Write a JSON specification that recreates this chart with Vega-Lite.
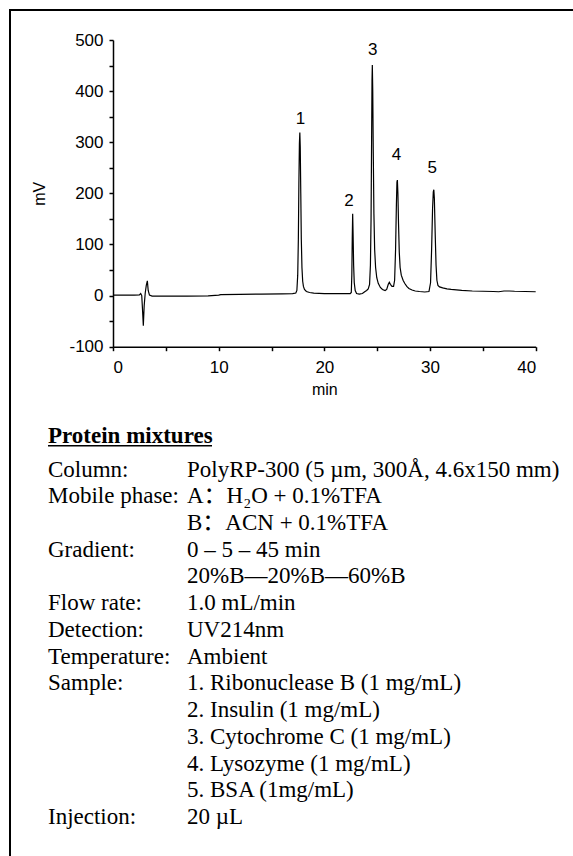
{
  "$schema": "https://vega.github.io/schema/vega-lite/v6.json",
  "width": 565,
  "height": 848,
  "autosize": {"type": "none"},
  "padding": {"left": 10, "top": 10, "right": -2, "bottom": -2},
  "background": "white",
  "config": {
    "view": {"stroke": "black", "strokeWidth": 2},
    "axis": {
      "grid": false,
      "domainColor": "black", "domainWidth": 1.5,
      "tickColor": "black", "tickWidth": 1.5, "tickSize": 4,
      "labelColor": "black", "labelFont": "Liberation Sans", "labelFontSize": 17,
      "titleColor": "black", "titleFont": "Liberation Sans", "titleFontSize": 16, "titleFontWeight": "normal"
    }
  },
  "datasets": {
    "trace": [
      {"t": 0, "mV": 1}, {"t": 1, "mV": 1}, {"t": 2, "mV": 1}, {"t": 2.5, "mV": 1.5},
      {"t": 2.62, "mV": 4}, {"t": 2.72, "mV": 0}, {"t": 2.8, "mV": -30}, {"t": 2.87, "mV": -59},
      {"t": 2.95, "mV": -20}, {"t": 3.05, "mV": 5}, {"t": 3.15, "mV": 20}, {"t": 3.25, "mV": 29},
      {"t": 3.33, "mV": 10}, {"t": 3.45, "mV": 1}, {"t": 3.7, "mV": -1}, {"t": 5, "mV": -1},
      {"t": 7, "mV": -1}, {"t": 9, "mV": -0.5}, {"t": 10, "mV": 1}, {"t": 10.2, "mV": 2},
      {"t": 12, "mV": 2.5}, {"t": 14, "mV": 3}, {"t": 16, "mV": 3.5}, {"t": 17.0, "mV": 4},
      {"t": 17.3, "mV": 5}, {"t": 17.4, "mV": 10}, {"t": 17.48, "mV": 40}, {"t": 17.54, "mV": 110},
      {"t": 17.59, "mV": 220}, {"t": 17.64, "mV": 298}, {"t": 17.68, "mV": 319}, {"t": 17.72, "mV": 290},
      {"t": 17.77, "mV": 200}, {"t": 17.82, "mV": 110}, {"t": 17.88, "mV": 55}, {"t": 17.95, "mV": 28},
      {"t": 18.02, "mV": 18}, {"t": 18.12, "mV": 12}, {"t": 18.3, "mV": 8}, {"t": 18.6, "mV": 6},
      {"t": 19.0, "mV": 5}, {"t": 20.0, "mV": 4}, {"t": 21.0, "mV": 4}, {"t": 22.0, "mV": 4},
      {"t": 22.45, "mV": 4}, {"t": 22.55, "mV": 6}, {"t": 22.6, "mV": 40}, {"t": 22.64, "mV": 110},
      {"t": 22.68, "mV": 160}, {"t": 22.72, "mV": 120}, {"t": 22.77, "mV": 60}, {"t": 22.83, "mV": 25},
      {"t": 22.92, "mV": 10}, {"t": 23.05, "mV": 4}, {"t": 23.3, "mV": 3}, {"t": 23.6, "mV": 4},
      {"t": 23.85, "mV": 8}, {"t": 24.0, "mV": 10}, {"t": 24.15, "mV": 13}, {"t": 24.28, "mV": 22},
      {"t": 24.36, "mV": 60}, {"t": 24.42, "mV": 150}, {"t": 24.47, "mV": 300}, {"t": 24.51, "mV": 420},
      {"t": 24.54, "mV": 451}, {"t": 24.58, "mV": 400}, {"t": 24.63, "mV": 280}, {"t": 24.69, "mV": 160},
      {"t": 24.76, "mV": 90}, {"t": 24.85, "mV": 55}, {"t": 24.96, "mV": 35}, {"t": 25.1, "mV": 24},
      {"t": 25.3, "mV": 16}, {"t": 25.5, "mV": 12}, {"t": 25.75, "mV": 10}, {"t": 25.9, "mV": 12},
      {"t": 26.05, "mV": 22}, {"t": 26.15, "mV": 26}, {"t": 26.25, "mV": 22}, {"t": 26.4, "mV": 18},
      {"t": 26.55, "mV": 18}, {"t": 26.65, "mV": 30}, {"t": 26.74, "mV": 90}, {"t": 26.82, "mV": 180},
      {"t": 26.87, "mV": 222}, {"t": 26.91, "mV": 226}, {"t": 26.96, "mV": 200}, {"t": 27.02, "mV": 140},
      {"t": 27.09, "mV": 85}, {"t": 27.17, "mV": 55}, {"t": 27.28, "mV": 40}, {"t": 27.45, "mV": 30},
      {"t": 27.6, "mV": 24}, {"t": 27.8, "mV": 18}, {"t": 28.0, "mV": 14}, {"t": 28.3, "mV": 11},
      {"t": 28.6, "mV": 9}, {"t": 29.0, "mV": 8}, {"t": 29.5, "mV": 7}, {"t": 29.9, "mV": 8},
      {"t": 30.05, "mV": 25}, {"t": 30.15, "mV": 90}, {"t": 30.24, "mV": 170}, {"t": 30.31, "mV": 203},
      {"t": 30.36, "mV": 207}, {"t": 30.41, "mV": 190}, {"t": 30.49, "mV": 120}, {"t": 30.57, "mV": 60},
      {"t": 30.65, "mV": 30}, {"t": 30.75, "mV": 20}, {"t": 30.9, "mV": 17}, {"t": 31.2, "mV": 15},
      {"t": 31.6, "mV": 13}, {"t": 32.0, "mV": 12}, {"t": 33.0, "mV": 10}, {"t": 34.0, "mV": 9},
      {"t": 35.0, "mV": 8.5}, {"t": 36.0, "mV": 8}, {"t": 36.5, "mV": 7.5}, {"t": 37.0, "mV": 9},
      {"t": 37.5, "mV": 9}, {"t": 38.0, "mV": 8.5}, {"t": 39.0, "mV": 8}, {"t": 40.0, "mV": 7.5}
    ],
    "peaks": [
      {"t": 17.75, "mV": 345, "label": "1"},
      {"t": 22.33, "mV": 186, "label": "2"},
      {"t": 24.57, "mV": 481, "label": "3"},
      {"t": 26.83, "mV": 275, "label": "4"},
      {"t": 30.2, "mV": 249, "label": "5"}
    ],
    "info": [
      {"row": 0, "col": "label", "text": "Protein mixtures"},
      {"row": 1, "col": "label", "text": "Column:"},
      {"row": 1, "col": "value", "text": "PolyRP-300 (5 µm, 300Å, 4.6x150 mm)"},
      {"row": 2, "col": "label", "text": "Mobile phase:"},
      {"row": 2, "col": "value", "text": "A：H₂O + 0.1%TFA"},
      {"row": 3, "col": "value", "text": "B：ACN + 0.1%TFA"},
      {"row": 4, "col": "label", "text": "Gradient:"},
      {"row": 4, "col": "value", "text": "0 – 5 – 45 min"},
      {"row": 5, "col": "value", "text": "20%B—20%B—60%B"},
      {"row": 6, "col": "label", "text": "Flow rate:"},
      {"row": 6, "col": "value", "text": "1.0 mL/min"},
      {"row": 7, "col": "label", "text": "Detection:"},
      {"row": 7, "col": "value", "text": "UV214nm"},
      {"row": 8, "col": "label", "text": "Temperature:"},
      {"row": 8, "col": "value", "text": "Ambient"},
      {"row": 9, "col": "label", "text": "Sample:"},
      {"row": 9, "col": "value", "text": "1. Ribonuclease B (1 mg/mL)"},
      {"row": 10, "col": "value", "text": "2. Insulin (1 mg/mL)"},
      {"row": 11, "col": "value", "text": "3. Cytochrome C (1 mg/mL)"},
      {"row": 12, "col": "value", "text": "4. Lysozyme (1 mg/mL)"},
      {"row": 13, "col": "value", "text": "5. BSA (1mg/mL)"},
      {"row": 14, "col": "label", "text": "Injection:"},
      {"row": 14, "col": "value", "text": "20 µL"}
    ]
  },
  "layer": [
    {
      "layer": [
        {
          "data": {"name": "trace"},
          "mark": {"type": "line", "color": "black", "strokeWidth": 1.2},
          "encoding": {
            "x": {
              "field": "t", "type": "quantitative",
              "scale": {"domain": [0, 40], "range": [103, 525.7], "nice": false},
              "axis": {"title": "min", "offset": -511.3, "values": [0, 5, 10, 15, 20, 25, 30, 35, 40],
                       "labelExpr": "datum.value % 10 === 0 ? '' + datum.value : ''",
                       "labelPadding": 9, "titlePadding": 6}
            },
            "y": {
              "field": "mV", "type": "quantitative",
              "scale": {"domain": [-100, 500], "range": [336.7, 30], "nice": false, "zero": false},
              "axis": {"title": "mV", "offset": -103,
                       "values": [-100, -50, 0, 50, 100, 150, 200, 250, 300, 350, 400, 450, 500],
                       "labelExpr": "datum.value % 100 === 0 ? '' + datum.value : ''",
                       "labelPadding": 6, "titlePadding": 21}
            }
          }
        },
        {
          "data": {"name": "peaks"},
          "mark": {"type": "text", "font": "Liberation Sans", "fontSize": 17, "color": "black", "baseline": "middle", "align": "center"},
          "encoding": {
            "x": {"field": "t", "type": "quantitative"},
            "y": {"field": "mV", "type": "quantitative"},
            "text": {"field": "label"}
          }
        }
      ]
    },
    {
      "data": {"name": "info"},
      "encoding": {
        "x": {"field": "col", "type": "nominal",
              "scale": {"type": "point", "domain": ["label", "value"], "range": [38, 177], "padding": 0}, "axis": null},
        "y": {"field": "row", "type": "quantitative",
              "scale": {"domain": [1, 14], "range": [466.5, 814], "nice": false, "zero": false}, "axis": null}
      },
      "layer": [
        {
          "transform": [{"filter": "datum.row > 0"}],
          "mark": {"type": "text", "font": "Liberation Serif, 'Noto Sans CJK SC'", "fontSize": 23, "color": "black", "align": "left", "baseline": "alphabetic"},
          "encoding": {"text": {"field": "text"}}
        },
        {
          "transform": [{"filter": "datum.row === 0"}],
          "mark": {"type": "text", "font": "Liberation Serif", "fontSize": 23, "fontWeight": "bold", "color": "black", "align": "left", "baseline": "alphabetic", "yOffset": -7},
          "encoding": {"text": {"field": "text"}}
        },
        {
          "transform": [{"filter": "datum.row === 0"}],
          "mark": {"type": "rule", "color": "black", "strokeWidth": 1.3, "x2Offset": 164, "yOffset": -4},
          "encoding": {"x2": {"field": "col"}}
        }
      ]
    }
  ],
  "resolve": {"scale": {"x": "independent", "y": "independent"}, "axis": {"x": "independent", "y": "independent"}}
}
